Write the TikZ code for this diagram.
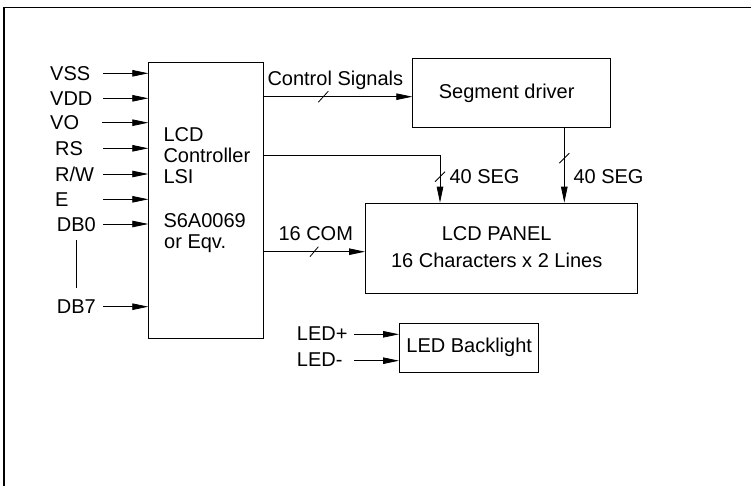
\documentclass[tikz,border=0pt]{standalone}
\usepackage{fontspec}
\setmainfont{Liberation Sans}
\usetikzlibrary{arrows.meta}
\begin{document}
\begin{tikzpicture}[x=1pt,y=-1pt,
  box/.style={draw, line width=0.8pt, inner sep=0pt, anchor=north west},
  lbl/.style={inner sep=0pt, font=\fontsize{20}{24}\selectfont, text height=14.3pt, text depth=0pt},
  arr/.style={line width=0.8pt, -{Triangle[length=16pt,width=6.5pt]}},
  ln/.style={line width=0.8pt},
  tk/.style={line width=0.8pt}]
\useasboundingbox (0,0) rectangle (751,486);
% frame
\coordinate (fbl) at (4,486);
\coordinate (ftl) at (4,7.5);
\coordinate (ftr) at (751,7.5);
\draw[line width=1.6pt] (fbl) -- (ftl) -- (ftr);

% boxes
\node[box, minimum width=114.2pt, minimum height=276.6pt] (ctrl) at (148.3,61.7) {};
\node[box, minimum width=197.7pt, minimum height=69pt] (segd) at (412.3,58.3) {};
\node[box, minimum width=272.3pt, minimum height=90pt] (panel) at (365,202.7) {};
\node[box, minimum width=139.3pt, minimum height=49.6pt] (led) at (399,322.7) {};

% box texts
\node[lbl, anchor=west] (c1) at (163.3,134) {LCD};
\node[lbl, anchor=west] (c2) at (163.3,155) {Controller};
\node[lbl, anchor=west] (c3) at (163.3,176.7) {LSI};
\node[lbl, anchor=west] (c4) at (163.3,220) {S6A0069};
\node[lbl, anchor=west] (c5) at (164,241.7) {or Eqv.};
\node[lbl] (segt) at (506.7,91) {Segment driver};
\node[lbl] (pan1) at (496.7,233) {LCD PANEL};
\node[lbl] (pan2) at (496.7,260.7) {16 Characters x 2 Lines};
\node[lbl] (ledt) at (469.2,345) {LED Backlight};

% input labels
\node[lbl, anchor=west] (lvss) at (50,73.3) {VSS};
\node[lbl, anchor=west] (lvdd) at (50,98.3) {VDD};
\node[lbl, anchor=west] (lvo) at (50,122.7) {VO};
\node[lbl, anchor=west] (lrs) at (55,148.3) {RS};
\node[lbl, anchor=west] (lrw) at (55,174) {R/W};
\node[lbl, anchor=west] (le) at (55,199.3) {E};
\node[lbl, anchor=west] (ldb0) at (56.7,224) {DB0};
\node[lbl, anchor=west] (ldb7) at (56.7,306.7) {DB7};

% input arrows
\coordinate (ivss) at (103,73.3);
\coordinate (ivdd) at (103,98.3);
\coordinate (ivo) at (102,122.7);
\coordinate (irs) at (103,148.3);
\coordinate (irw) at (103,174);
\coordinate (ie) at (103,199.3);
\coordinate (idb0) at (103,224);
\coordinate (idb7) at (103,306.7);
\foreach \c in {ivss,ivdd,ivo,irs,irw,ie,idb0,idb7}
  \draw[arr] (\c) -- (\c -| ctrl.west);
\coordinate (dbtop) at (76,240);
\coordinate (dbbot) at (76,288);
\draw[ln] (dbtop) -- (dbbot);

% control signals
\coordinate (cs0) at (262.5,96.7);
\draw[arr] (cs0) -- coordinate[pos=0.406] (t1) (cs0 -| segd.west);
\draw[tk] (t1) ++(-5,5.5) -- ++(10,-11);
\node[lbl, anchor=west] (cst) at (267.3,78.3) {Control Signals};

% left 40 SEG
\coordinate (sg0) at (262.5,155);
\coordinate (sg1) at (440,202.7);
\coordinate (t3) at (440,176.7);
\draw[arr] (sg0) -| (sg1);
\draw[tk] (t3) ++(-5,5) -- ++(10,-10);
\node[lbl, anchor=west] (seg1) at (449.3,176) {40 SEG};

% right 40 SEG
\coordinate (sd0) at (564.3,127.3);
\coordinate (sd1) at (564.3,202.7);
\draw[arr] (sd0) -- coordinate[pos=0.41] (t4) (sd1);
\draw[tk] (t4) ++(-5,5) -- ++(10,-10);
\node[lbl, anchor=west] (seg2) at (573.3,176) {40 SEG};

% 16 COM
\coordinate (cm0) at (262.5,251.7);
\draw[arr] (cm0) -- coordinate[pos=0.504] (t2) (cm0 -| panel.west);
\draw[tk] (t2) ++(-4.2,5) -- ++(8.4,-10);
\node[lbl, anchor=west] (comt) at (278.3,233) {16 COM};

% LED
\node[lbl, anchor=west] (lledp) at (296.7,333.5) {LED+};
\node[lbl, anchor=west] (lledm) at (296.7,359.7) {LED-};
\coordinate (lp) at (354,334.3);
\coordinate (lm) at (354,360.7);
\draw[arr] (lp) -- (lp -| led.west);
\draw[arr] (lm) -- (lm -| led.west);
\end{tikzpicture}
\end{document}
